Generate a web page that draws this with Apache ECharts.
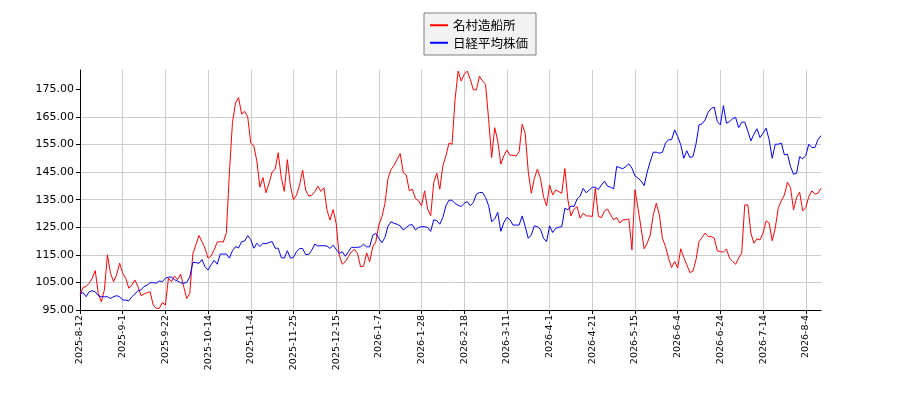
<!DOCTYPE html>
<html lang="ja">
<head>
    <meta charset="UTF-8">
    <title>名村造船所と日経平均株価</title>
    <script type="text/javascript" src="https://cdn.jsdelivr.net/npm/echarts@6/dist/echarts.min.js"></script>
    <style>
        html, body { margin: 0; padding: 0; background: #fff; }
    </style>
</head>
<body>
<div id="main" style="width:900px;height:400px;"></div>

<script type="text/javascript">
    // 取引日 2025-08-12 〜 2026-08-12（土日・祝日を除く）
    var startDate = '2025-08-12';
    var endDate = '2026-08-12';
    var holidays = [
        '2025-09-15', '2025-09-23', '2025-10-13', '2025-11-03', '2025-11-24',
        '2025-12-31', '2026-01-01', '2026-01-02', '2026-01-12', '2026-02-11',
        '2026-02-23', '2026-03-20', '2026-04-29', '2026-05-04', '2026-05-05',
        '2026-05-06', '2026-07-20', '2026-08-11'
    ];

    // 名村造船所（指数化）
    var meimura = [
        100.4, 103.2, 103.5, 104.7, 106.5, 109.3, 101, 98, 102.3, 115,
        108.3, 105.3, 107.7, 112, 108.3, 106.5, 102.9, 104, 105.9, 103.5,
        100.2, 100.8, 101.3, 101.6, 96.8, 95.6, 95.6, 97.7, 96.8, 106.5,
        105.3, 107.3, 106, 108, 103.5, 99.2, 101, 115.3, 118.6, 122,
        119.8, 117.4, 113.8, 114.6, 116.8, 119.6, 119.8, 119.6, 123, 145,
        163, 170, 172, 166, 167, 165, 155.5, 154.5, 149, 139.5,
        143, 137.5, 141, 145, 146, 152, 143, 138, 149.5, 140,
        135, 136.6, 140.3, 145.7, 138.5, 136.3, 136.6, 137.9, 139.9, 138,
        139.3, 131.2, 127.6, 131.4, 126.4, 114.9, 111.6, 112.5, 114.3, 116.1,
        117, 115.5, 110.7, 110.9, 115.7, 112.5, 117.9, 119.7, 125.8, 128.8,
        133.6, 142.7, 145.9, 147.5, 149.6, 151.7, 144.8, 143.9, 138.2, 138.8,
        135.4, 134.6, 132.8, 138.2, 131.6, 129.2, 141.2, 144.6, 138.8, 147.3,
        150.9, 155.5, 155.1, 171.4, 181.6, 178, 180.4, 181.6, 178.6, 174.8,
        174.8, 179.8, 178, 176.8, 164.1, 150.3, 161.1, 156.3, 147.9, 150.9,
        153, 151.1, 151.1, 150.8, 152.4, 162.3, 159, 145.1, 137.3, 142.7,
        146.1, 142.7, 136.1, 132.7, 140.3, 136.7, 138.5, 137.9, 137.3, 146.3,
        134.9, 129.1, 131.5, 132.5, 128.3, 130.1, 129.1, 129.1, 128.9, 139.1,
        128.9, 128.5, 130.9, 131.6, 129.5, 127.7, 128.5, 126.5, 127.7, 127.7,
        128, 116.8, 138.6, 131.9, 124.7, 117.2, 119.2, 122.2, 129.5, 133.7,
        129.5, 121, 118, 113.8, 110.4, 112.6, 110.2, 117.2, 114, 111.4,
        108.6, 109, 113.2, 119.8, 121.3, 122.9, 121.6, 121.6, 121.1, 116.4,
        116.2, 116, 117.1, 113.8, 112.6, 111.6, 113.8, 115.6, 133.1, 133.1,
        122.9, 119.2, 120.8, 120.4, 122.9, 127.3, 126.5, 120.1, 124.7, 132.1,
        134.6, 136.7, 141.3, 139.4, 131.3, 135.8, 137.7, 130.9, 132.1, 136.1,
        138.2, 137, 137.3, 139.2
    ];

    // 日経平均株価（指数化）
    var nikkei = [
        100.8, 101.3, 99.8, 101.6, 102, 101.6, 100.2, 99.8, 99.8, 99.8,
        99.2, 99.8, 100.2, 99.8, 98.6, 98.6, 98.3, 99.8, 100.8, 102,
        102.3, 103.5, 104, 104.9, 104.9, 104.7, 105.5, 105.3, 106.5, 106.9,
        106.9, 106, 105.5, 104.9, 104.7, 105, 107, 112.2, 112.2, 111.9,
        113.3, 110.7, 109.5, 111.4, 113, 111.6, 115.3, 115.3, 115.3, 113.8,
        116.5, 118, 117.5, 119.8, 120, 122, 120.5, 117.4, 119.2, 118,
        119.2, 119, 119.5, 119.8, 117.4, 117.4, 114, 113.8, 116.5, 113.8,
        114.1, 116.1, 117.3, 117.3, 115.1, 115.1, 116.7, 118.9, 118.2, 118.3,
        118.3, 118.2, 117.3, 118.5, 117, 115.5, 116.1, 114.5, 116.1, 117.7,
        117.7, 117.7, 117.9, 118.8, 117.9, 117.9, 122.1, 122.8, 121, 119.4,
        121.3, 125.4, 127, 126.4, 126.1, 125.5, 124, 124.9, 125.8, 125.9,
        124, 124.9, 125.2, 125.2, 124.9, 123.5, 127.7, 127.4, 126.1, 128.6,
        132.8, 134.8, 134.8, 133.6, 133, 132.5, 133.7, 134.3, 132.8, 134,
        137, 137.6, 137.6, 135.8, 132.8, 127, 128, 130.4, 123.5, 126.7,
        128.6, 127.7, 125.8, 125.8, 125.8, 129.1, 125.2, 121, 122.2, 125.5,
        125.2, 124.3, 121, 119.8, 125.5, 123.1, 124.6, 125, 125.2, 131.9,
        131.3, 132.7, 132.5, 135.2, 136.3, 139.1, 137.5, 138.5, 139.5, 139.5,
        138.7, 140.3, 141.7, 139.9, 139.5, 138.9, 147, 146.6, 146.2, 147,
        148, 146.4, 143.6, 142.8, 141.8, 140.1, 145, 148.8, 152.2, 152.2,
        151.8, 152.2, 155.5, 156.7, 156.7, 160.3, 157.9, 154.9, 150, 152.7,
        150.3, 150.6, 155.1, 162.1, 162.5, 163.9, 166.7, 168.1, 168.5, 163.3,
        162.1, 169.1, 162.7, 163.3, 164.3, 164.8, 161.1, 163.1, 163.1, 159.9,
        156.3, 158.7, 160.7, 157.5, 159.1, 160.9, 156.7, 150, 155.1, 155.1,
        155.5, 151.2, 151.5, 147, 144.2, 144.6, 150.6, 149.8, 151, 155.1,
        153.9, 153.9, 156.7, 158.2
    ];

    var yTicks = [95, 105, 115, 125, 135, 145, 155, 165, 175];

    // 取引日リストを作る
    function pad(n) { return n < 10 ? '0' + n : '' + n; }
    var dates = [];
    var d = new Date(startDate + 'T00:00:00Z');
    var end = new Date(endDate + 'T00:00:00Z');
    while (d <= end) {
        var wd = d.getUTCDay();
        var key = d.getUTCFullYear() + '-' + pad(d.getUTCMonth() + 1) + '-' + pad(d.getUTCDate());
        if (wd !== 0 && wd !== 6 && holidays.indexOf(key) < 0) {
            dates.push(d.getUTCFullYear() + '-' + (d.getUTCMonth() + 1) + '-' + d.getUTCDate());
        }
        d = new Date(d.getTime() + 86400000);
    }

    var myChart = echarts.init(document.getElementById('main'));

    var option = {
        animation: false,
        backgroundColor: '#ffffff',
        textStyle: { fontFamily: 'DejaVu Sans' },
        legend: {
            orient: 'vertical',
            left: 424,
            top: 13,
            padding: [6, 8, 6, 6],
            itemGap: 5,
            itemWidth: 18,
            itemHeight: 2,
            icon: 'rect',
            backgroundColor: '#f2f2f2',
            borderColor: '#808080',
            borderWidth: 1,
            borderRadius: 0,
            textStyle: { fontSize: 12.5, color: '#000', fontFamily: 'Noto Sans CJK JP' },
            data: ['名村造船所', '日経平均株価']
        },
        grid: {
            left: 80,
            right: 79,
            top: 70,
            bottom: 90
        },
        xAxis: {
            type: 'category',
            boundaryGap: false,
            data: dates,
            axisLine: { lineStyle: { color: '#000', width: 1 } },
            axisTick: { interval: 13, length: 4, lineStyle: { color: '#000' } },
            axisLabel: {
                interval: 13,
                rotate: 90,
                fontSize: 9.5,
                color: '#000',
                margin: 5
            },
            splitLine: { show: true, interval: 13, lineStyle: { color: '#cccccc', width: 1 } }
        },
        yAxis: {
            type: 'value',
            min: 95,
            max: 182,
            interval: 10,
            axisLine: { show: true, lineStyle: { color: '#000', width: 1 } },
            axisTick: { show: true, length: 4, customValues: yTicks, lineStyle: { color: '#000' } },
            axisLabel: {
                fontSize: 11,
                color: '#000',
                margin: 6,
                showMaxLabel: false,
                formatter: function (v) { return v.toFixed(2); }
            },
            splitLine: { show: true, showMaxLine: false, lineStyle: { color: '#cccccc', width: 1 } }
        },
        series: [
            {
                name: '名村造船所',
                type: 'line',
                data: meimura,
                showSymbol: false,
                symbol: 'none',
                itemStyle: { color: '#ff0000' },
                lineStyle: { color: '#ff0000', width: 1 }
            },
            {
                name: '日経平均株価',
                type: 'line',
                data: nikkei,
                showSymbol: false,
                symbol: 'none',
                itemStyle: { color: '#0000ff' },
                lineStyle: { color: '#0000ff', width: 1 }
            }
        ]
    };

    myChart.setOption(option);
</script>
</body>
</html>
